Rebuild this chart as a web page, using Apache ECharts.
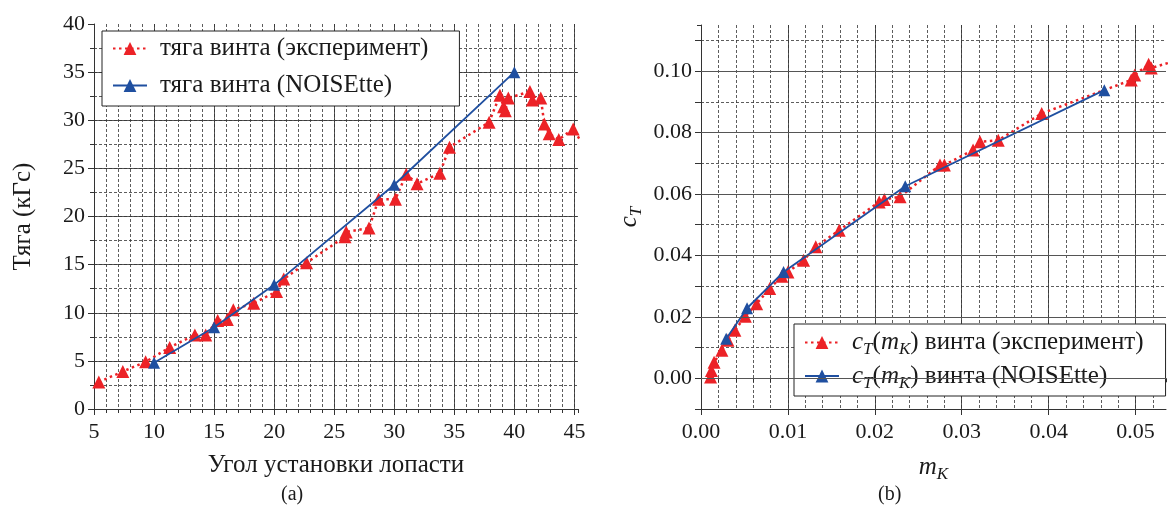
<!DOCTYPE html>
<html>
<head>
<meta charset="utf-8">
<script src="https://cdn.jsdelivr.net/npm/echarts@6/dist/echarts.min.js"></script>
<style>
  html, body { margin: 0; padding: 0; background: #fff; }
  #chart { width: 1168px; height: 515px; }
</style>
</head>
<body>
<div id="chart"></div>
<script>
// (a) thrust vs blade angle
var expAngle  = [5.4, 7.4, 9.3, 11.3, 13.4, 14.3, 15.3, 16.1, 16.6, 18.3, 20.2, 20.8, 22.7, 25.9, 26.0, 27.9, 28.7, 30.1, 31.0, 31.9, 33.8, 34.6, 37.9, 38.8, 39.1, 39.25, 39.5, 41.3, 41.5, 42.2, 42.5, 42.9, 43.7, 44.9, 45.8];
var expThrust = [2.8, 3.9, 4.9, 6.4, 7.7, 7.7, 9.2, 9.3, 10.3, 11.0, 12.2, 13.5, 15.2, 17.9, 18.4, 18.8, 21.8, 21.8, 24.4, 23.4, 24.5, 27.2, 29.8, 32.6, 31.4, 31.0, 32.3, 33.0, 32.1, 32.3, 29.6, 28.6, 28.0, 29.1, 27.3];
var noiAngle  = [10, 15, 20, 30, 40];
var noiThrust = [4.8, 8.5, 12.9, 23.3, 35.0];

// (b) c_T vs m_K
var expMk = [0.0011, 0.0012, 0.0015, 0.0024, 0.0031, 0.0039, 0.0051, 0.0064, 0.0079, 0.0093, 0.0100, 0.0118, 0.0132, 0.0159, 0.0205, 0.0211, 0.0229, 0.0275, 0.0280, 0.0313, 0.0321, 0.0342, 0.0392, 0.0495, 0.0499, 0.0515, 0.0518, 0.0560];
var expCt = [0.0004, 0.0025, 0.0052, 0.0091, 0.0124, 0.0156, 0.0202, 0.0243, 0.0292, 0.0332, 0.0346, 0.0384, 0.0428, 0.0482, 0.0574, 0.0582, 0.0591, 0.0694, 0.0694, 0.0743, 0.0770, 0.0775, 0.0862, 0.0971, 0.0987, 0.1022, 0.1010, 0.1045];
var noiMk = [0.0029, 0.0053, 0.0095, 0.0235, 0.0464];
var noiCt = [0.0129, 0.0228, 0.0346, 0.0625, 0.0938];

var ctMajor = [0, 0.02, 0.04, 0.06, 0.08, 0.10];

var FONT = "Liberation Serif";
var RED = "#ec2227";
var BLUE = "#1f4fa0";
var INK = "#1a1a1a";
var TXT = 25;   // legend and axis titles
var TICK = 22;  // tick labels

function pairs(xs, ys) {
  return xs.map(function(x, i) { return [x, ys[i]]; });
}

function majorAxis(opts) {
  return Object.assign({
    type: "value",
    axisLine: { show: true, onZero: false, lineStyle: { color: "#333", width: 1 } },
    axisTick: { show: true, length: 6, lineStyle: { color: "#333" } },
    axisLabel: { color: INK, fontFamily: FONT, fontSize: TICK, showMaxLabel: false },
    splitLine: { show: true, showMinLine: false, showMaxLine: false, lineStyle: { color: "#555", width: 1 } },
    nameTextStyle: { color: INK, fontFamily: FONT, fontSize: TXT }
  }, opts);
}

function minorAxis(opts) {
  return Object.assign({
    type: "value",
    axisLine: { show: false },
    axisTick: { show: true, length: 4, lineStyle: { color: "#333" } },
    axisLabel: { show: false },
    splitLine: { show: true, showMinLine: false, showMaxLine: false, lineStyle: { color: "#333", width: 0.8, type: [3, 2] } }
  }, opts);
}

var subRich = {
  n: { fontFamily: FONT, fontSize: TXT, color: INK },
  i: { fontFamily: FONT, fontSize: TXT, fontStyle: "italic", color: INK },
  s: { fontFamily: FONT, fontSize: 17, fontStyle: "italic", color: INK, padding: [15, 0, 0, 0] }
};

var option = {
  animation: false,
  backgroundColor: "#fff",
  grid: [
    { left: 94, top: 24, width: 484, height: 385 },
    { left: 701, top: 25, width: 465, height: 384 }
  ],
  xAxis: [
    majorAxis({ gridIndex: 0, position: "bottom", min: 5, max: 45.3, interval: 5,
      axisLabel: { color: INK, fontFamily: FONT, fontSize: TICK, showMaxLabel: false, margin: 12 },
      name: "Угол установки лопасти", nameLocation: "middle", nameGap: 44 }),
    minorAxis({ gridIndex: 0, position: "bottom", min: 5, max: 45.3, interval: 1 }),
    majorAxis({ gridIndex: 1, position: "bottom", min: 0, max: 0.0535, interval: 0.01,
      axisLabel: { color: INK, fontFamily: FONT, fontSize: TICK, showMaxLabel: false, margin: 12,
        formatter: function(v) { return v.toFixed(2); } },
      name: "{i|m}{s|K}", nameLocation: "middle", nameGap: 42,
      nameTextStyle: { color: INK, fontFamily: FONT, fontSize: TXT, rich: subRich } }),
    minorAxis({ gridIndex: 1, position: "bottom", min: 0, max: 0.0535, interval: 0.002 })
  ],
  yAxis: [
    majorAxis({ gridIndex: 0, position: "left", min: 0, max: 40, interval: 5,
      axisLabel: { color: INK, fontFamily: FONT, fontSize: TICK, margin: 9 },
      name: "Тяга (кГс)", nameLocation: "middle", nameGap: 58 }),
    minorAxis({ gridIndex: 0, position: "left", min: 0, max: 40, interval: 2.5 }),
    majorAxis({ gridIndex: 1, position: "left", min: -0.01, max: 0.115, interval: 0.01,
      splitLine: { show: false },
      axisLabel: { color: INK, fontFamily: FONT, fontSize: TICK, margin: 9, showMaxLabel: false,
        formatter: function(v) {
          var k = Math.round(v * 100);
          return (k >= 0 && k % 2 === 0) ? v.toFixed(2) : "";
        } },
      name: "{i|c}{s|T}", nameLocation: "middle", nameGap: 56,
      nameTextStyle: { color: INK, fontFamily: FONT, fontSize: TXT, rich: subRich } }),
    minorAxis({ gridIndex: 1, position: "left", min: -0.01, max: 0.115, interval: 0.01 })
  ],
  legend: [
    {
      left: 102, top: 31, orient: "vertical",
      data: ["тяга винта (эксперимент)", "тяга винта (NOISEtte)"],
      backgroundColor: "#fff", borderColor: "#222", borderWidth: 1, borderRadius: 0,
      padding: [3, 31, 6, 10], itemGap: 8, itemWidth: 34, itemHeight: 16,
      textStyle: { fontFamily: FONT, fontSize: TXT, color: INK, lineHeight: 29, padding: [0, 0, 0, 8] }
    },
    {
      left: 794, top: 324, orient: "vertical",
      data: ["ct_exp", "ct_noi"],
      backgroundColor: "#fff", borderColor: "#222", borderWidth: 1, borderRadius: 0,
      padding: [4, 22, 4, 10], itemGap: 3, itemWidth: 34, itemHeight: 16,
      formatter: function(name) {
        var tail = name === "ct_exp" ? " винта (эксперимент)" : " винта (NOISEtte)";
        return "{i|c}{s|T}{n|(}{i|m}{s|K}{n|)" + tail + "}";
      },
      textStyle: { fontFamily: FONT, fontSize: TXT, color: INK, lineHeight: 29, padding: [0, 0, 0, 8], rich: subRich }
    }
  ],
  graphic: [
    { type: "text", left: 281, top: 485, style: { text: "(a)", font: "20px " + FONT, fill: INK } },
    { type: "text", left: 878, top: 485, style: { text: "(b)", font: "20px " + FONT, fill: INK } }
  ],
  series: [
    {
      name: "ct_major", type: "line", xAxisIndex: 2, yAxisIndex: 2, data: [], z: 1, silent: true,
      markLine: {
        silent: true, symbol: "none", label: { show: false },
        lineStyle: { color: "#555", width: 1, type: "solid" },
        data: ctMajor.map(function(v) { return { yAxis: v }; })
      }
    },
    {
      name: "тяга винта (эксперимент)", type: "line", xAxisIndex: 0, yAxisIndex: 0,
      data: pairs(expAngle, expThrust), symbol: "triangle", symbolSize: 13, z: 3,
      itemStyle: { color: RED }, lineStyle: { color: RED, width: 2.5, type: [2.5, 3.5] }
    },
    {
      name: "тяга винта (NOISEtte)", type: "line", xAxisIndex: 0, yAxisIndex: 0,
      data: pairs(noiAngle, noiThrust), symbol: "triangle", symbolSize: 12, z: 4,
      itemStyle: { color: BLUE }, lineStyle: { color: BLUE, width: 1.8 }
    },
    {
      name: "ct_exp", type: "line", xAxisIndex: 2, yAxisIndex: 2,
      data: pairs(expMk, expCt), symbol: "triangle", symbolSize: 13, z: 3,
      itemStyle: { color: RED }, lineStyle: { color: RED, width: 2.5, type: [2.5, 3.5] }
    },
    {
      name: "ct_noi", type: "line", xAxisIndex: 2, yAxisIndex: 2,
      data: pairs(noiMk, noiCt), symbol: "triangle", symbolSize: 12, z: 4,
      itemStyle: { color: BLUE }, lineStyle: { color: BLUE, width: 1.8 }
    }
  ]
};

var chart = echarts.init(document.getElementById("chart"), null, { renderer: "canvas" });
chart.setOption(option);
</script>
</body>
</html>
